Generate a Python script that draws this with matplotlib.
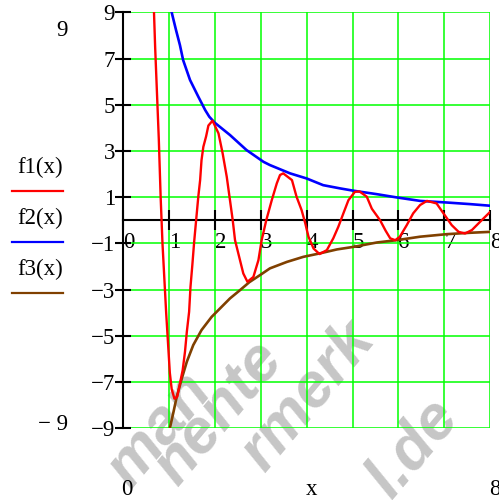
import matplotlib
matplotlib.use("Agg")
import matplotlib.pyplot as plt
from matplotlib.lines import Line2D

# ---- data ----
f1_x = [0.675, 0.70, 0.74, 0.78, 0.82, 0.86, 0.90, 0.94, 0.98, 1.02, 1.06, 1.12, 1.18,
        1.24, 1.30, 1.35, 1.39, 1.44, 1.47, 1.51, 1.55, 1.59, 1.64, 1.68, 1.71, 1.75,
        1.81, 1.86, 1.95, 2.08, 2.17, 2.26, 2.33, 2.39, 2.44, 2.53, 2.62, 2.71, 2.84,
        2.95, 3.02, 3.12, 3.24, 3.35, 3.42, 3.49, 3.68, 3.78, 3.89, 3.97, 4.04, 4.15,
        4.28, 4.44, 4.58, 4.69, 4.80, 4.91, 5.05, 5.15, 5.31, 5.42, 5.60, 5.72, 5.82,
        5.93, 6.03, 6.18, 6.32, 6.47, 6.62, 6.83, 6.98, 7.16, 7.31, 7.45, 7.60, 7.78, 8.0]
f1_y = [9.0, 7.5, 5.5, 3.5, 1.0, -1.0, -2.5, -4.0, -5.3, -6.6, -7.3, -7.72, -7.64,
        -7.06, -6.48, -5.69, -4.83, -3.96, -2.88, -1.94, -0.93, -0.06, 1.02, 1.74, 2.6, 3.18,
        3.63, 4.1, 4.31, 3.76, 2.9, 1.88, 0.87, 0.0, -0.86, -1.58, -2.3, -2.66, -2.45,
        -1.72, -0.86, 0.0, 0.87, 1.6, 1.96, 2.03, 1.74, 1.02, 0.44, -0.13, -0.71, -1.22,
        -1.46, -1.29, -0.78, -0.28, 0.3, 0.87, 1.23, 1.25, 1.02, 0.5, 0.0, -0.45, -0.78,
        -0.86, -0.71, -0.21, 0.3, 0.66, 0.84, 0.73, 0.3, -0.21, -0.5, -0.57, -0.42, -0.06, 0.37]

f2_x = [1.06, 1.155, 1.24, 1.31, 1.46, 1.64, 1.79, 1.88, 2.0, 2.33, 2.69, 3.06, 3.2,
        3.64, 4.0, 4.36, 4.73, 5.02, 5.53, 5.96, 6.47, 7.05, 7.56, 8.0]
f2_y = [9.0, 8.23, 7.58, 6.93, 6.07, 5.35, 4.77, 4.48, 4.22, 3.69, 3.04, 2.53, 2.39,
        2.03, 1.81, 1.52, 1.38, 1.28, 1.13, 0.99, 0.84, 0.77, 0.70, 0.63]

f3_x = [1.02, 1.10, 1.17, 1.28, 1.39, 1.53, 1.71, 1.93, 2.15, 2.33, 2.55, 2.75, 3.0,
        3.2, 3.57, 3.93, 4.29, 4.66, 5.02, 5.53, 5.96, 6.47, 7.05, 7.56, 8.0]
f3_y = [-9.0, -8.29, -7.64, -6.85, -6.12, -5.4, -4.75, -4.18, -3.74, -3.38, -3.02, -2.68, -2.35,
        -2.08, -1.8, -1.58, -1.43, -1.26, -1.15, -0.96, -0.86, -0.71, -0.6, -0.54, -0.5]

x_ticks = [0, 1, 2, 3, 4, 5, 6, 7, 8]
x_tick_labels = ["0", "1", "2", "3", "4", "5", "6", "7", "8"]
y_ticks = [9, 7, 5, 3, 1, -1, -3, -5, -7, -9]
y_tick_labels = ["9", "7", "5", "3", "1", "\u22121", "\u22123", "\u22125", "\u22127", "\u22129"]
legend_names = ["f1(x)", "f2(x)", "f3(x)"]
colors = ["#ff0000", "#0000ff", "#804000"]
watermark = ["man", "nente", "rmerk", "l.de"]

W, H = 499, 500
SERIF = "Liberation Serif"
FS = 16.5

fig = plt.figure(figsize=(W / 100, H / 100), dpi=100)
fig.patch.set_facecolor("white")

def fx(px):
    return px / W

def fy(py):
    return 1 - py / H

ax = fig.add_axes([fx(123), fy(428.3), 367.3 / W, 416 / H])
ax.patch.set_visible(False)
ax.set_xlim(0, 8)
ax.set_ylim(-9, 9)

for s in ["top", "right"]:
    ax.spines[s].set_visible(False)
ax.spines["left"].set_position(("data", 0))
ax.spines["bottom"].set_position(("data", 0))
ax.spines["left"].set_linewidth(1.5)
ax.spines["bottom"].set_linewidth(1.5)

ax.set_xticks(x_ticks)
ax.set_xticklabels(x_tick_labels, fontfamily=SERIF, fontsize=FS, ha="left")
ax.set_yticks(y_ticks)
ax.set_yticklabels(y_tick_labels, fontfamily=SERIF, fontsize=FS)
ax.tick_params(axis="x", direction="inout", length=13.7, width=1.5, pad=1.5)
ax.tick_params(axis="y", direction="inout", length=11.2, width=1.5, pad=0.0)

ax.grid(True, color="#00ff00", linewidth=1.1)
ax.set_axisbelow(True)

ax.plot(f2_x, f2_y, color=colors[1], lw=1.9, zorder=3)
ax.plot(f3_x, f3_y, color=colors[2], lw=1.9, zorder=3)
ax.plot(f1_x, f1_y, color=colors[0], lw=1.7, zorder=4)

# outside limit labels
fig.text(fx(68), fy(30), "9", family=SERIF, fontsize=FS, ha="right", va="center")
fig.text(fx(68), fy(424), "\u2212 9", family=SERIF, fontsize=FS, ha="right", va="center")
fig.text(fx(127), fy(495), "0", family=SERIF, fontsize=FS, ha="center", va="baseline")
fig.text(fx(312), fy(495), "x", family=SERIF, fontsize=FS, ha="center", va="baseline")
fig.text(fx(489), fy(495), "8", family=SERIF, fontsize=FS, ha="left", va="baseline")

# legend
for i, (name, c) in enumerate(zip(legend_names, colors)):
    ty = 167 + 51 * i
    ly = 190.5 + 51 * i
    fig.text(fx(40), fy(ty), name, family=SERIF, fontsize=FS, ha="center", va="center")
    fig.add_artist(Line2D([fx(12), fx(63)], [fy(ly), fy(ly)], color=c, lw=1.6,
                          transform=fig.transFigure))

# watermark
wm_pos = [(160, 430), (218, 412), (308, 395), (414, 448)]
for t, (px, py) in zip(watermark, wm_pos):
    fig.text(fx(px), fy(py), t, family="Liberation Sans", fontsize=45, weight="bold",
             style="italic", color="#c6c6c6", rotation=50, rotation_mode="anchor",
             ha="center", va="center", zorder=-1)

fig.savefig("out.png", dpi=100)
